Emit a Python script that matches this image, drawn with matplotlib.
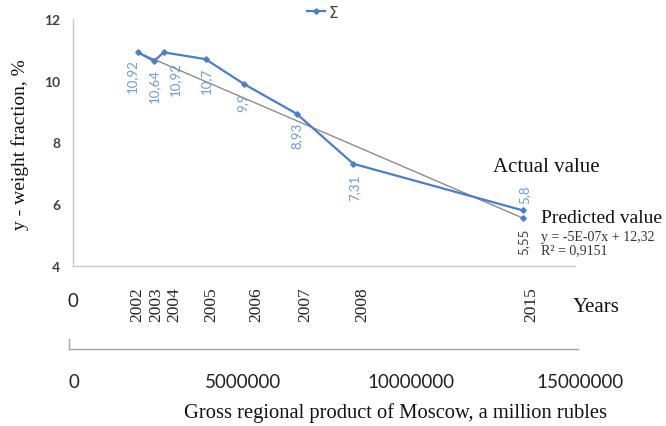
import matplotlib
matplotlib.use("Agg")
import matplotlib.pyplot as plt
from matplotlib.lines import Line2D

# Weight fraction vs gross regional product of Moscow
years = ["2002", "2003", "2004", "2005", "2006", "2007", "2008", "2015"]
grp = [1920000, 2400000, 2690000, 3930000, 5060000, 6630000, 8310000, 13340000]
weight = [10.92, 10.64, 10.92, 10.70, 9.90, 8.93, 7.31, 5.80]
weight_labels = ["10,92", "10,64", "10,92", "10,7", "9,9", "8,93", "7,31", "5,8"]
predicted_2015 = 5.55
predicted_label = "5,55"
# trend line end values (first year, 2015 prediction)
trend_values = [10.92, 5.55]
equation_text = "y = -5E-07x + 12,32"
r2_text = "R² = 0,9151"
y_ticks = [4, 6, 8, 10, 12]
grp_ticks = [0, 5000000, 10000000, 15000000]

W, H = 666, 427
fig = plt.figure(figsize=(W / 100, H / 100), dpi=100)
fig.patch.set_facecolor("white")

def fx(px):
    return px / W

def fy(py):
    return 1 - py / H

SERIF = "Liberation Serif"
SANS = "Lato"
BLUE = "#4A7EC7"
LBLUE = "#6B9BD8"
GRAY_TXT = "#404040"
PX_PER_UNIT = (580 - 74) / 15000000.0

# main plot area
ax = fig.add_axes([fx(73), fy(267), fx(575) - fx(73), fy(20) - fy(267)])
ax.set_xlim(0, (575 - 73) / PX_PER_UNIT)
ax.set_ylim(4, 12)
ax.set_yticks(y_ticks)
ax.set_yticklabels([str(v) for v in y_ticks], fontfamily=SANS, fontsize=10,
                   color=GRAY_TXT, fontweight="bold")
ax.tick_params(axis="y", length=0, pad=9)
ax.set_xticks([])
for s in ("top", "right"):
    ax.spines[s].set_visible(False)
for s in ("left", "bottom"):
    ax.spines[s].set_color("#C8C8C8")
    ax.spines[s].set_linewidth(1.0)

# trend line
ax.plot([grp[0], grp[-1]], trend_values, color="#8C8C8C", lw=1.0, zorder=2)
# actual series
line, = ax.plot(grp, weight, color=BLUE, lw=1.6, marker="D", ms=2.8,
                zorder=3, clip_on=False)
# predicted point
ax.plot([grp[-1]], [predicted_2015], color=BLUE, marker="D", ms=2.8,
        ls="none", zorder=3, clip_on=False)

# value labels (pixel offsets from each point)
label_offsets = [(-6, -23), (0, -24), (11, -26), (0, -21), (-1, -18),
                 (0, -21), (1, -23), (1, 17)]
for x, y, t, off in zip(grp, weight, weight_labels, label_offsets):
    ax.annotate(t, (x, y), xytext=off, textcoords="offset pixels",
                rotation=90, ha="center", va="center", color=LBLUE,
                fontsize=9.5, fontfamily=SANS, annotation_clip=False)
ax.annotate(predicted_label, (grp[-1], predicted_2015), xytext=(0, -23),
            textcoords="offset pixels", rotation=90, ha="center",
            va="center", color=GRAY_TXT, fontsize=9.5, fontfamily=SANS,
            annotation_clip=False)

# year labels under the plot area
year_offsets = [-1, 2, 11, 6, 13, 9, 9, 8]
for x, yr, dx in zip(grp, years, year_offsets):
    ax.annotate(yr, (x, 4), xytext=(dx, -(305 - 267)),
                textcoords="offset pixels", rotation=90, ha="center",
                va="center", fontsize=12.5, fontfamily=SERIF, color="#222222",
                annotation_clip=False)

fig.text(fx(73), fy(302), "0", fontfamily=SANS, fontsize=13.5, color="#222222",
         ha="center", va="center")
fig.text(fx(573), fy(307), "Years", fontfamily=SERIF, fontsize=15,
         color="#111111", ha="left", va="center")

# annotations on the right
fig.text(fx(493), fy(167), "Actual value", fontfamily=SERIF, fontsize=15,
         color="#111111", ha="left", va="center")
fig.text(fx(541), fy(219), "Predicted value", fontfamily=SERIF, fontsize=14,
         color="#111111", ha="left", va="center")
fig.text(fx(541), fy(238), equation_text, fontfamily=SERIF, fontsize=10,
         color="#333333", ha="left", va="center")
fig.text(fx(541), fy(251), r2_text, fontfamily=SERIF, fontsize=10,
         color="#333333", ha="left", va="center")

# legend
legend_handle = Line2D([], [], color=BLUE, lw=1.6, marker="D", ms=2.8)
fig.legend([legend_handle], ["Σ"], loc="center left",
           bbox_to_anchor=(fx(307), fy(13)), frameon=False, handlelength=1.2,
           handletextpad=0.2, borderaxespad=0, borderpad=0,
           prop={"family": "DejaVu Sans", "size": 11}, labelcolor=GRAY_TXT)

# gross regional product axis
ax2 = fig.add_axes([fx(69), fy(350), fx(580) - fx(69), fy(340) - fy(350)])
ax2.set_xlim(-(74 - 69) / PX_PER_UNIT, 15000000)
ax2.set_ylim(0, 1)
ax2.set_yticks([])
ax2.set_xticks(grp_ticks)
ax2.set_xticklabels([str(v) for v in grp_ticks], fontfamily=SANS, fontsize=13.5,
                    color="#222222")
ax2.tick_params(axis="x", length=0, pad=17)
ax2.patch.set_alpha(0)
for s in ("top", "right"):
    ax2.spines[s].set_visible(False)
for s in ("left", "bottom"):
    ax2.spines[s].set_color("#A6A6A6")
    ax2.spines[s].set_linewidth(1.0)
ax2.spines["bottom"].set_bounds(-(74 - 69) / PX_PER_UNIT, (578 - 74) / PX_PER_UNIT)

fig.text(fx(396), fy(413), "Gross regional product of Moscow, a million rubles",
         fontfamily=SERIF, fontsize=14.8, color="#111111", ha="center",
         va="center")
fig.text(fx(20), fy(145), "y - weight fraction, %", fontfamily=SERIF,
         fontsize=14, color="#111111", rotation=90, ha="center", va="center")

fig.savefig("out.png", dpi=100, facecolor="white")
